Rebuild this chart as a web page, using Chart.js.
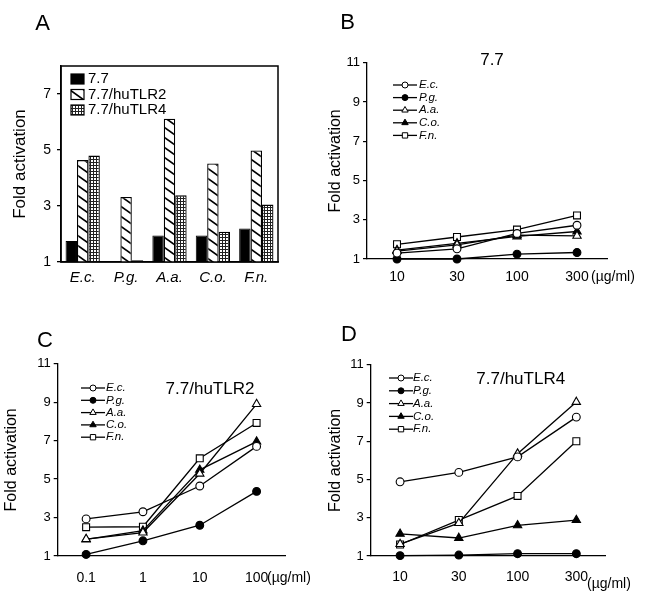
<!DOCTYPE html>
<html>
<head>
<meta charset="utf-8">
<script src="https://cdn.jsdelivr.net/npm/chart.js@4.4.1/dist/chart.umd.min.js"></script>
<style>
    body { margin: 0; background: #fff; }
    #wrap { position: relative; width: 648px; height: 604px; }
    canvas { position: absolute; }
</style>
</head>
<body>
<div id="wrap">
    <canvas id="chartA" width="324" height="302" style="left:0;top:0"></canvas>
    <canvas id="chartB" width="324" height="302" style="left:324px;top:0"></canvas>
    <canvas id="chartC" width="324" height="302" style="left:0;top:302px"></canvas>
    <canvas id="chartD" width="324" height="302" style="left:324px;top:302px"></canvas>
</div>
<script>
const strains = ['E.c.', 'P.g.', 'A.a.', 'C.o.', 'F.n.'];

// panel A - bars
const cellLines = ['7.7', '7.7/huTLR2', '7.7/huTLR4'];
const fold77 = [1.75, 1.02, 1.95, 1.95, 2.2];
const foldTLR2 = [4.64, 3.32, 6.12, 4.52, 4.98];
const foldTLR4 = [4.8, 1.06, 3.38, 2.08, 3.05];
const ticksA = [1, 3, 5, 7];

// panels B-D - dose response
const ticksLine = [1, 3, 5, 7, 9, 11];
const dosesB = ['10', '30', '100', '300'];
const b_Ec = [1.3, 1.52, 2.3, 2.72];
const b_Pg = [1.0, 1.0, 1.25, 1.33];
const b_Aa = [1.4, 1.72, 2.22, 2.18];
const b_Co = [1.45, 1.8, 2.15, 2.4];
const b_Fn = [1.75, 2.12, 2.5, 3.22];

const dosesC = ['0.1', '1', '10', '100'];
const c_Ec = [2.93, 3.3, 4.64, 6.7];
const c_Pg = [1.08, 1.79, 2.6, 4.36];
const c_Aa = [1.88, 2.22, 5.28, 8.9];
const c_Co = [1.86, 2.32, 5.48, 6.95];
const c_Fn = [2.5, 2.52, 6.08, 7.92];

const dosesD = ['10', '30', '100', '300'];
const d_Ec = [4.88, 5.37, 6.18, 8.26];
const d_Pg = [1.02, 1.05, 1.12, 1.12];
const d_Aa = [1.62, 2.72, 6.35, 9.05];
const d_Co = [2.16, 1.94, 2.6, 2.88];
const d_Fn = [1.6, 2.88, 4.14, 7.0];

Chart.defaults.font.family = '"Liberation Sans", Arial, Helvetica, sans-serif';
Chart.defaults.color = '#000';

// marker look per strain
const markerStyle = ['circle', 'circle', 'triangle', 'triangle', 'rect'];
const markerFill = ['#fff', '#000', '#fff', '#000', '#fff'];
const markerSize = [3.9, 3.9, 4.8, 4.8, 4.9];

function hatchPattern() {
    const c = document.createElement('canvas');
    c.width = 14; c.height = 10;
    const g = c.getContext('2d');
    g.fillStyle = '#fff';
    g.fillRect(0, 0, 14, 10);
    g.strokeStyle = '#000';
    g.lineWidth = 1.7;
    g.beginPath();
    g.moveTo(-1.4, -1); g.lineTo(15.4, 11);
    g.moveTo(-1.4, 9); g.lineTo(1.4, 11);
    g.moveTo(12.6, -1); g.lineTo(15.4, 1);
    g.stroke();
    return g.createPattern(c, 'repeat');
}

function dotPattern() {
    const c = document.createElement('canvas');
    c.width = 3; c.height = 3;
    const g = c.getContext('2d');
    g.fillStyle = '#fff';
    g.fillRect(0, 0, 3, 3);
    g.fillStyle = '#222';
    g.fillRect(0, 0, 3, 1);
    g.fillRect(0, 0, 1, 3);
    return g.createPattern(c, 'repeat');
}

function drawMarker(ctx, style, x, y, r, fill) {
    ctx.beginPath();
    if (style === 'circle') {
        ctx.arc(x, y, r, 0, Math.PI * 2);
    } else if (style === 'triangle') {
        for (let k = 0; k < 3; k++) {
            const a = -Math.PI / 2 + k * 2 * Math.PI / 3;
            const px = x + Math.cos(a) * r, py = y + Math.sin(a) * r;
            if (k === 0) ctx.moveTo(px, py); else ctx.lineTo(px, py);
        }
    } else {
        const s = r * Math.SQRT1_2;
        ctx.rect(x - s, y - s, 2 * s, 2 * s);
    }
    ctx.closePath();
    ctx.fillStyle = fill;
    ctx.fill();
    ctx.stroke();
}

// legend drawn by hand so it can sit inside the plot like the original
const legendPlugin = {
    id: 'panelLegend',
    afterDatasetsDraw(chart, args, opts) {
        if (!opts || !opts.kind) return;
        const ctx = chart.ctx;
        ctx.save();
        ctx.font = opts.font;
        ctx.textBaseline = 'middle';
        ctx.textAlign = 'left';
        chart.data.datasets.forEach((ds, i) => {
            const y = opts.y + i * opts.dy;
            ctx.strokeStyle = '#000';
            if (opts.kind === 'box') {
                ctx.lineWidth = 1.2;
                ctx.fillStyle = ds.backgroundColor;
                ctx.fillRect(opts.x, y - opts.h / 2, opts.w, opts.h);
                ctx.strokeRect(opts.x, y - opts.h / 2, opts.w, opts.h);
            } else {
                ctx.lineWidth = 1.3;
                ctx.beginPath();
                ctx.moveTo(opts.x, y);
                ctx.lineTo(opts.x + opts.len, y);
                ctx.stroke();
                ctx.lineWidth = 1;
                drawMarker(ctx, ds.pointStyle, opts.x + opts.len / 2, y, opts.r * ds.pointRadius / 3.9, ds.pointBackgroundColor);
            }
            ctx.fillStyle = '#000';
            ctx.fillText(ds.label, opts.textX, y);
        });
        ctx.restore();
    }
};

const textPlugin = {
    id: 'panelText',
    afterDraw(chart, args, opts) {
        if (!opts || !opts.items) return;
        const ctx = chart.ctx;
        ctx.save();
        ctx.fillStyle = '#000';
        ctx.textBaseline = 'middle';
        opts.items.forEach(it => {
            ctx.font = it.font;
            ctx.textAlign = it.align || 'left';
            ctx.fillText(it.t, it.x, it.y);
        });
        ctx.restore();
    }
};

const framePlugin = {
    id: 'frame',
    afterDraw(chart, args, opts) {
        if (!opts || !opts.show) return;
        const a = chart.chartArea;
        const ctx = chart.ctx;
        ctx.save();
        ctx.strokeStyle = '#000';
        ctx.lineWidth = 1.5;
        ctx.strokeRect(a.left, a.top, a.right - a.left, a.bottom - a.top);
        ctx.restore();
    }
};

const FONT = '"Liberation Sans", Arial, Helvetica, sans-serif';

// ---- panel A
new Chart(document.getElementById('chartA'), {
    type: 'bar',
    data: {
        labels: strains,
        datasets: [
            { label: cellLines[0], data: fold77, backgroundColor: '#000', borderColor: '#000', borderWidth: 1 },
            { label: cellLines[1], data: foldTLR2, backgroundColor: hatchPattern(), borderColor: '#000', borderWidth: 1.3 },
            { label: cellLines[2], data: foldTLR4, backgroundColor: dotPattern(), borderColor: '#000', borderWidth: 1.3 }
        ]
    },
    options: {
        responsive: false,
        animation: false,
        devicePixelRatio: 1,
        layout: { padding: { left: 0, top: 66, right: 46, bottom: 0 } },
        datasets: { bar: { categoryPercentage: 0.79, barPercentage: 1 } },
        scales: {
            x: {
                grid: { display: false, drawTicks: false, tickLength: 0 },
                border: { color: '#000', width: 1.5 },
                ticks: { font: { size: 15, style: 'italic' }, color: '#000', padding: 7, maxRotation: 0 },
                afterFit: s => { s.height = 40; }
            },
            y: {
                min: 1,
                max: 8,
                afterBuildTicks: s => { s.ticks = ticksA.map(v => ({ value: v })); },
                ticks: { font: { size: 14 }, color: '#000', padding: 6 },
                grid: { drawOnChartArea: false, tickLength: 4, color: '#000', lineWidth: 1.3 },
                border: { color: '#000', width: 1.5 },
                title: { display: true, text: 'Fold activation', font: { size: 17 }, color: '#000', padding: { top: 10, bottom: 0 } },
                afterFit: s => { s.width = 61; }
            }
        },
        plugins: {
            legend: { display: false },
            tooltip: { enabled: false },
            frame: { show: true },
            panelLegend: { kind: 'box', x: 71, y: 79, dy: 15.5, w: 13, h: 10, textX: 88, font: '15px ' + FONT },
            panelText: { items: [{ t: 'A', x: 42.5, y: 24, font: '22px ' + FONT, align: 'center' }] }
        }
    },
    plugins: [legendPlugin, textPlugin, framePlugin]
});

// ---- panels B-D
function lineDatasets(series) {
    return series.map((vals, i) => ({
        label: strains[i],
        data: vals,
        borderColor: '#000',
        borderWidth: 1.3,
        tension: 0,
        clip: false,
        pointStyle: markerStyle[i],
        pointRadius: markerSize[i],
        pointBackgroundColor: markerFill[i],
        pointBorderColor: '#000',
        pointBorderWidth: 1.1
    }));
}

function doseChart(id, doses, series, cfg) {
    return new Chart(document.getElementById(id), {
        type: 'line',
        data: { labels: doses, datasets: lineDatasets(series) },
        options: {
            responsive: false,
            animation: false,
            devicePixelRatio: 1,
            layout: { padding: { left: 0, top: cfg.top, right: cfg.right, bottom: 0 } },
            scales: {
                x: {
                    type: 'category',
                    offset: true,
                    grid: { display: false, drawTicks: false, tickLength: 0 },
                    border: { color: '#000', width: 1.3 },
                    ticks: { font: { size: 14 }, color: '#000', padding: cfg.xPad, maxRotation: 0, autoSkip: false },
                    afterFit: s => { s.height = cfg.xHeight; }
                },
                y: {
                    min: 1,
                    max: 11,
                    afterBuildTicks: s => { s.ticks = ticksLine.map(v => ({ value: v })); },
                    ticks: { font: { size: 13 }, color: '#000', padding: 3 },
                    grid: { drawOnChartArea: false, tickLength: 4, color: '#000', lineWidth: 1.2 },
                    border: { color: '#000', width: 1.3 },
                    title: { display: true, text: 'Fold activation', font: { size: 16 }, color: '#000', padding: { top: 1.5, bottom: 0 } },
                    afterFit: s => { s.width = cfg.yWidth; }
                }
            },
            plugins: {
                legend: { display: false },
                tooltip: { enabled: false },
                panelLegend: cfg.legend,
                panelText: { items: cfg.texts }
            }
        },
        plugins: [legendPlugin, textPlugin]
    });
}

doseChart('chartB', dosesB, [b_Ec, b_Pg, b_Aa, b_Co, b_Fn], {
    top: 62.7, right: 41, xHeight: 43, yWidth: 43, xPad: 10,
    legend: { kind: 'line', x: 69, len: 24, r: 3, y: 85, dy: 12.6, textX: 95, font: 'italic 11.5px ' + FONT },
    texts: [
        { t: 'B', x: 23.5, y: 23, font: '22px ' + FONT, align: 'center' },
        { t: '7.7', x: 168, y: 60, font: '17px ' + FONT, align: 'center' },
        { t: '(\u00b5g/ml)', x: 267, y: 277, font: '14px ' + FONT }
    ]
});

doseChart('chartC', dosesC, [c_Ec, c_Pg, c_Aa, c_Co, c_Fn], {
    top: 61.7, right: 39, xHeight: 48, yWidth: 57.7, xPad: 14,
    legend: { kind: 'line', x: 81, len: 24, r: 3, y: 86, dy: 12.3, textX: 106, font: 'italic 11.5px ' + FONT },
    texts: [
        { t: 'C', x: 45, y: 39, font: '22px ' + FONT, align: 'center' },
        { t: '7.7/huTLR2', x: 210, y: 87, font: '17px ' + FONT, align: 'center' },
        { t: '(\u00b5g/ml)', x: 267, y: 276, font: '14px ' + FONT }
    ]
});

doseChart('chartD', dosesD, [d_Ec, d_Pg, d_Aa, d_Co, d_Fn], {
    top: 62.7, right: 42.3, xHeight: 48, yWidth: 46.7, xPad: 13,
    legend: { kind: 'line', x: 65, len: 24, r: 3, y: 76, dy: 12.8, textX: 89, font: 'italic 11.5px ' + FONT },
    texts: [
        { t: 'D', x: 25, y: 33, font: '22px ' + FONT, align: 'center' },
        { t: '7.7/huTLR4', x: 196.7, y: 77.3, font: '17px ' + FONT, align: 'center' },
        { t: '(\u00b5g/ml)', x: 263, y: 281.7, font: '14px ' + FONT }
    ]
});
</script>
</body>
</html>
